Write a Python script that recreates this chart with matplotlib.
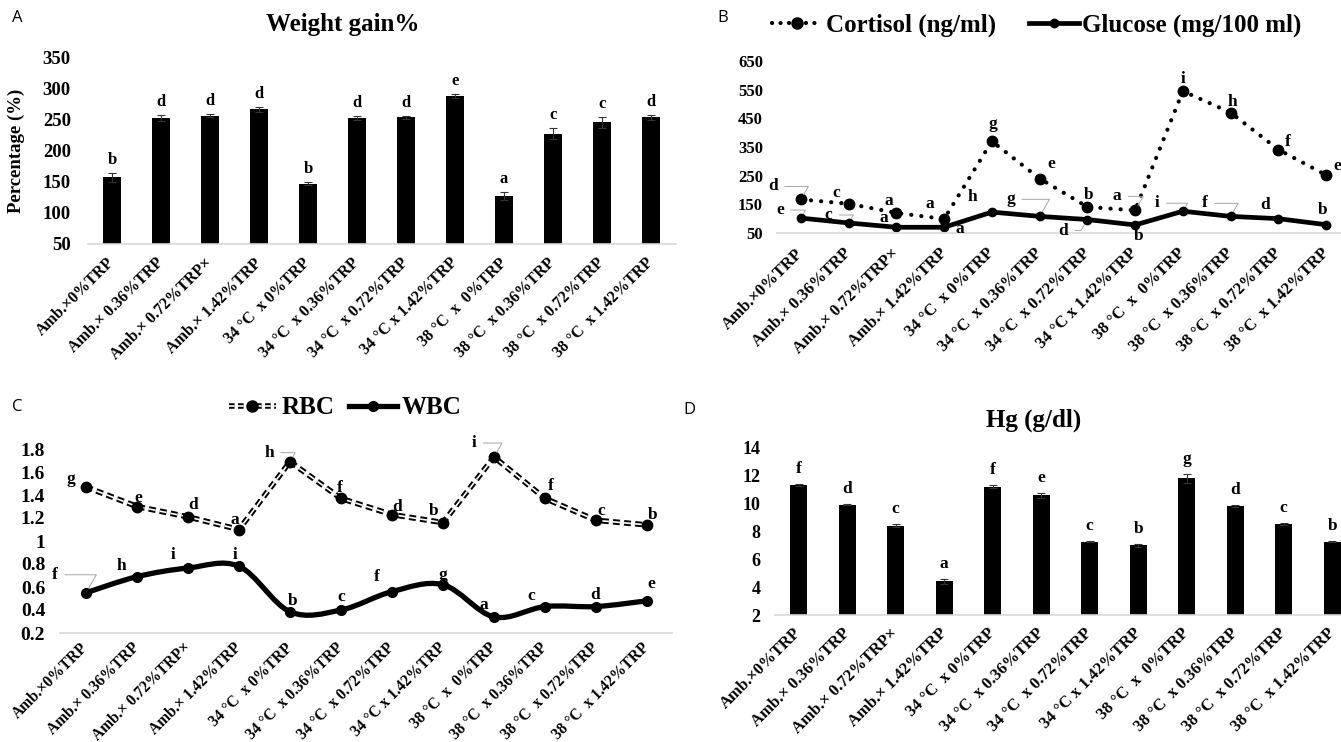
import numpy as np
import matplotlib
matplotlib.use("Agg")
import matplotlib.pyplot as plt
from matplotlib.lines import Line2D
from matplotlib.path import Path
from matplotlib.patches import PathPatch
from matplotlib.legend_handler import HandlerTuple

plt.rcParams["font.family"] = ["Liberation Serif", "DejaVu Serif"]
plt.rcParams["font.weight"] = "bold"
plt.rcParams["lines.scale_dashes"] = False

groups = ["Amb.×0%TRP", "Amb.× 0.36%TRP", "Amb.× 0.72%TRP×", "Amb.× 1.42%TRP",
          "34 °C  x 0%TRP", "34 °C  x 0.36%TRP", "34 °C  x 0.72%TRP", "34 °C x 1.42%TRP",
          "38 °C  x  0%TRP", "38 °C  x 0.36%TRP", "38 °C  x 0.72%TRP", "38 °C  x 1.42%TRP"]

# A: weight gain
weight_gain = [157, 252, 256, 266, 147, 252, 253, 287, 127, 227, 245, 253]
weight_gain_err = [7, 5, 2, 4, 2, 3, 3, 3, 7, 9, 9, 4]
weight_gain_letters = list("bdddbddeaccd")

# B: cortisol / glucose
cortisol = [167, 152, 120, 99, 370, 240, 141, 129, 545, 470, 341, 252]
cortisol_letters = list("dcaagebaihfe")
glucose = [102, 85, 70, 70, 123, 108, 97, 78, 126, 108, 100, 79]
glucose_letters = list("ecaahgdbifdb")

# C: RBC / WBC
rbc = [1.47, 1.30, 1.21, 1.10, 1.69, 1.37, 1.23, 1.16, 1.73, 1.37, 1.18, 1.14]
rbc_letters = list("gedahfdbifcb")
wbc = [0.55, 0.69, 0.765, 0.78, 0.385, 0.40, 0.56, 0.62, 0.34, 0.43, 0.43, 0.48]
wbc_letters = list("fhiibcfgacde")

# D: Hg
hg = [11.33, 9.92, 8.42, 4.44, 11.23, 10.6, 7.28, 7.01, 11.82, 9.83, 8.54, 7.28]
hg_err = [0.05, 0.05, 0.12, 0.18, 0.08, 0.2, 0.03, 0.1, 0.3, 0.1, 0.08, 0.03]
hg_letters = list("fdcafecbgdcb")

# letter offsets in pixels (dx, dy) and whether a leader line is drawn
cortisol_off = [(-28, 13), (-12, 11), (-8, 12), (-14, 15), (1, 17), (12, 15),
                (1, 12), (-18, 14), (0, 12), (2, 11), (9, 8), (11, 9)]
cortisol_lead = [1, 0, 0, 0, 0, 0, 0, 1, 0, 0, 0, 0]
glucose_off = [(-21, 8), (-20, 8), (-13, 9), (16, -2), (-19, 15), (-29, 17),
               (-24, -11), (3, -11), (-26, 8), (-26, 13), (-13, 14), (-3, 15)]
glucose_lead = [1, 1, 0, 0, 0, 1, 1, 0, 1, 1, 0, 0]
rbc_off = [(-15, 8), (1, 9), (5, 12), (-4, 10), (-21, 9), (-1, 10),
           (5, 8), (-9, 12), (-20, 14), (6, 12), (5, 9), (6, 10)]
rbc_lead = [0, 0, 0, 0, 1, 0, 0, 0, 1, 0, 0, 0]
wbc_off = [(-31, 18), (-16, 11), (-15, 13), (-4, 11), (3, 11), (0, 13),
           (-15, 15), (0, 10), (-10, 12), (-14, 11), (-1, 12), (4, 17)]
wbc_lead = [1, 0, 0, 0, 0, 0, 0, 0, 0, 0, 0, 0]

W, H = 1341, 742
fig = plt.figure(figsize=(W / 100, H / 100), dpi=100)
x = np.arange(len(groups))


def px_axes(left, top, right, bottom):
    return fig.add_axes([left / W, 1 - bottom / H, (right - left) / W, (bottom - top) / H])


def style_axes(ax, ytick_size, ypad, xpad, xsize):
    for side in ["left", "right", "top"]:
        ax.spines[side].set_visible(False)
    ax.spines["bottom"].set_color("#d9d9d9")
    ax.spines["bottom"].set_linewidth(1.2)
    ax.tick_params(axis="both", length=0)
    ax.tick_params(axis="y", labelsize=ytick_size, pad=ypad)
    ax.set_xlim(-0.5, len(groups) - 0.5)
    ax.set_xticks(x)
    ax.set_xticklabels(groups, rotation=45, ha="right", va="center",
                       rotation_mode="anchor", fontsize=xsize)
    ax.tick_params(axis="x", pad=xpad)


def letters(ax, xs, ys, labs, offs, leads, size=12):
    for xi, yi, lab, (dx, dy), lead in zip(xs, ys, labs, offs, leads):
        props = None
        if lead:
            props = dict(arrowstyle="-", color="#a6a6a6", lw=0.7, shrinkA=3, shrinkB=4,
                         connectionstyle="angle,angleA=0,angleB=60,rad=0")
        ax.annotate(lab, (xi, yi), xytext=(dx, dy), textcoords="offset pixels",
                    ha="center", va="center", fontsize=size, fontweight="bold",
                    arrowprops=props)


def smooth_path(xs, ys):
    p = np.column_stack([xs, ys]).astype(float)
    ext = np.vstack([p[0], p, p[-1]])
    verts = [p[0]]
    codes = [Path.MOVETO]
    for i in range(len(p) - 1):
        c1 = ext[i + 1] + (ext[i + 2] - ext[i]) / 6
        c2 = ext[i + 2] - (ext[i + 3] - ext[i + 1]) / 6
        verts += [c1, c2, p[i + 1]]
        codes += [Path.CURVE4] * 3
    return Path(verts, codes)


# ---- A ----
ax = px_axes(87.5, 57, 675.5, 244)
ax.bar(x, weight_gain, width=0.35, color="black", yerr=weight_gain_err,
       error_kw=dict(ecolor="#333333", elinewidth=0.8, capsize=3, capthick=0.8))
ax.set_ylim(50, 350)
ax.set_yticks(range(50, 351, 50))
style_axes(ax, 13.5, 12, 12, 11.5)
ax.set_ylabel("Percentage (%)", fontsize=13.5, fontweight="bold")
ax.yaxis.set_label_coords(-0.106, 0.5)
for xi, v, e, lab in zip(x, weight_gain, weight_gain_err, weight_gain_letters):
    ax.annotate(lab, (xi, v + e), xytext=(0, 5), textcoords="offset pixels",
                ha="center", va="bottom", fontsize=12, fontweight="bold")
fig.text(343 / W, 1 - 25 / H, "Weight gain%", ha="center", va="center",
         fontsize=18, fontweight="bold")
fig.text(12 / W, 1 - 18 / H, "A", ha="left", va="center", fontsize=12,
         fontweight="normal", family="Open Sans")

# ---- B ----
ax = px_axes(777, 61, 1350, 233)
ax.plot(x, cortisol, color="black", lw=3, linestyle=(0, (0.1, 7.2)),
        dash_capstyle="round", marker="o", markersize=7.5)
ax.plot(x, glucose, color="black", lw=3.4, marker="o", markersize=6)
ax.set_ylim(50, 650)
ax.set_yticks(range(50, 651, 100))
style_axes(ax, 12, 10, 13, 12)
letters(ax, x, cortisol, cortisol_letters, cortisol_off, cortisol_lead, 12.5)
letters(ax, x, glucose, glucose_letters, glucose_off, glucose_lead, 12.5)
h_cort = Line2D([], [], color="black", lw=3, linestyle=(0, (0.1, 6)),
                dash_capstyle="round", marker="o", markersize=8)
h_glu = Line2D([], [], color="black", lw=3.4, marker="o", markersize=6)
fig.legend([h_cort, h_glu], ["Cortisol (ng/ml)", "Glucose (mg/100 ml)"],
           loc="center", bbox_to_anchor=(1037 / W, 1 - 25 / H), ncol=2, frameon=False,
           prop=dict(size=18, weight="bold"), handlelength=2.0, handletextpad=0.15,
           columnspacing=1.3)
fig.text(717 / W, 1 - 18 / H, "B", ha="left", va="center", fontsize=12,
         fontweight="normal", family="Open Sans")

# ---- C ----
ax = px_axes(60.5, 449, 672.5, 633)
ax.plot(x, rbc, color="black", lw=4, linestyle=(0, (5, 3)))
ax.plot(x, rbc, color="white", lw=1.2, linestyle=(0, (5, 3)))
ax.plot(x, rbc, "o", color="black", markersize=7.5)
ax.add_patch(PathPatch(smooth_path(x, wbc), fill=False, lw=3.8, edgecolor="black",
                       capstyle="round", joinstyle="round"))
ax.plot(x, wbc, "o", color="black", markersize=7)
ax.set_ylim(0.2, 1.8)
ax.set_yticks(np.arange(0.2, 1.81, 0.2))
ax.set_yticklabels(["0.2", "0.4", "0.6", "0.8", "1", "1.2", "1.4", "1.6", "1.8"])
style_axes(ax, 14, 11, 9, 11.2)
letters(ax, x, rbc, rbc_letters, rbc_off, rbc_lead, 12.5)
letters(ax, x, wbc, wbc_letters, wbc_off, wbc_lead, 12.5)
h_rbc = (Line2D([], [], color="black", lw=4, linestyle=(0, (4, 2.5))),
         Line2D([], [], color="white", lw=1.2, linestyle=(0, (4, 2.5))),
         Line2D([], [], color="black", marker="o", markersize=8, lw=0))
h_wbc = Line2D([], [], color="black", lw=3.8, marker="o", markersize=7)
fig.legend([h_rbc, h_wbc], ["RBC", "WBC"], loc="center",
           bbox_to_anchor=(345 / W, 1 - 408 / H), ncol=2, frameon=False,
           prop=dict(size=18, weight="bold"), handlelength=1.9, handletextpad=0.2,
           columnspacing=0.6,
           handler_map={tuple: HandlerTuple(ndivide=1, pad=0)})
fig.text(12 / W, 1 - 407 / H, "C", ha="left", va="center", fontsize=12,
         fontweight="normal", family="Open Sans")

# ---- D ----
ax = px_axes(774.5, 448, 1356.5, 615)
ax.bar(x, hg, width=0.35, color="black", yerr=hg_err,
       error_kw=dict(ecolor="#333333", elinewidth=0.8, capsize=3, capthick=0.8))
ax.set_ylim(2, 14)
ax.set_yticks(range(2, 15, 2))
style_axes(ax, 13, 10, 11.5, 12)
for xi, v, e, lab in zip(x, hg, hg_err, hg_letters):
    ax.annotate(lab, (xi, v + e), xytext=(0, 7), textcoords="offset pixels",
                ha="center", va="bottom", fontsize=12.5, fontweight="bold")
fig.text(1034 / W, 1 - 420 / H, "Hg (g/dl)", ha="center", va="center",
         fontsize=18, fontweight="bold")
fig.text(683 / W, 1 - 410 / H, "D", ha="left", va="center", fontsize=12,
         fontweight="normal", family="Open Sans")

fig.savefig("out.png", dpi=100, facecolor="white")
